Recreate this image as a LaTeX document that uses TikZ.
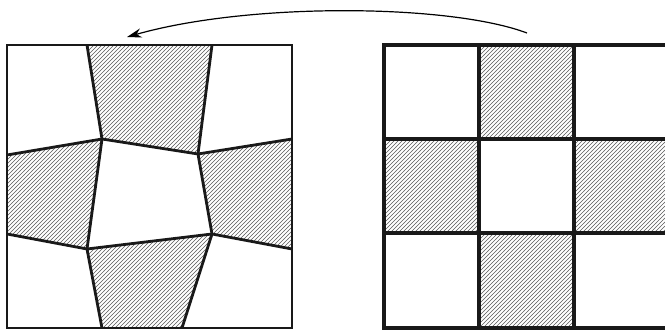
\documentclass[tikz,border=0pt]{standalone}
\usepackage{tikz}
\usetikzlibrary{patterns,arrows.meta}

\begin{document}
\begin{tikzpicture}[x=0.75pt, y=-0.75pt]
\tikzset{
    hatched/.style={pattern=north east lines, pattern color=black!65},
    thinedge/.style={line width=2.1pt, line join=miter, black!90},
    gridedge/.style={line width=2.8pt, line join=miter, black!90},
    arrow/.style={-{Stealth[length=11pt, width=7pt]}, line width=0.9pt}
}
\useasboundingbox (0,0) rectangle (665,331);

% deformed grid (left)
\coordinate (A) at (102,139);
\coordinate (B) at (198,154);
\coordinate (C) at (212,234);
\coordinate (D) at (87,249);
\fill[hatched] (87,45) -- (212,45) -- (B) -- (A) -- cycle;
\fill[hatched] (7,155) -- (A) -- (D) -- (7,234) -- cycle;
\fill[hatched] (B) -- (292,139) -- (292,249) -- (C) -- cycle;
\fill[hatched] (D) -- (C) -- (182,328) -- (102,328) -- cycle;
\draw[thinedge] (7,45) rectangle (292,328);
\draw[thinedge] (87,45) -- (A) -- (D) -- (102,328);
\draw[thinedge] (212,45) -- (B) -- (C) -- (182,328);
\draw[thinedge] (7,155) -- (A) -- (B) -- (292,139);
\draw[thinedge] (7,234) -- (D) -- (C) -- (292,249);

% regular grid (right)
\fill[hatched] (479,45) rectangle (574,139);
\fill[hatched] (384,139) rectangle (479,233);
\fill[hatched] (574,139) rectangle (669,233);
\fill[hatched] (479,233) rectangle (574,328);
\draw[gridedge] (384,45) rectangle (669,328);
\draw[gridedge] (479,45) -- (479,328);
\draw[gridedge] (574,45) -- (574,328);
\draw[gridedge] (384,139) -- (669,139);
\draw[gridedge] (384,233) -- (669,233);

% mapping arrow
\coordinate (from) at (527,33);
\coordinate (to) at (127,37);
\draw[arrow] (from) .. controls (450,4) and (250,2) .. (to);
\end{tikzpicture}
\end{document}
